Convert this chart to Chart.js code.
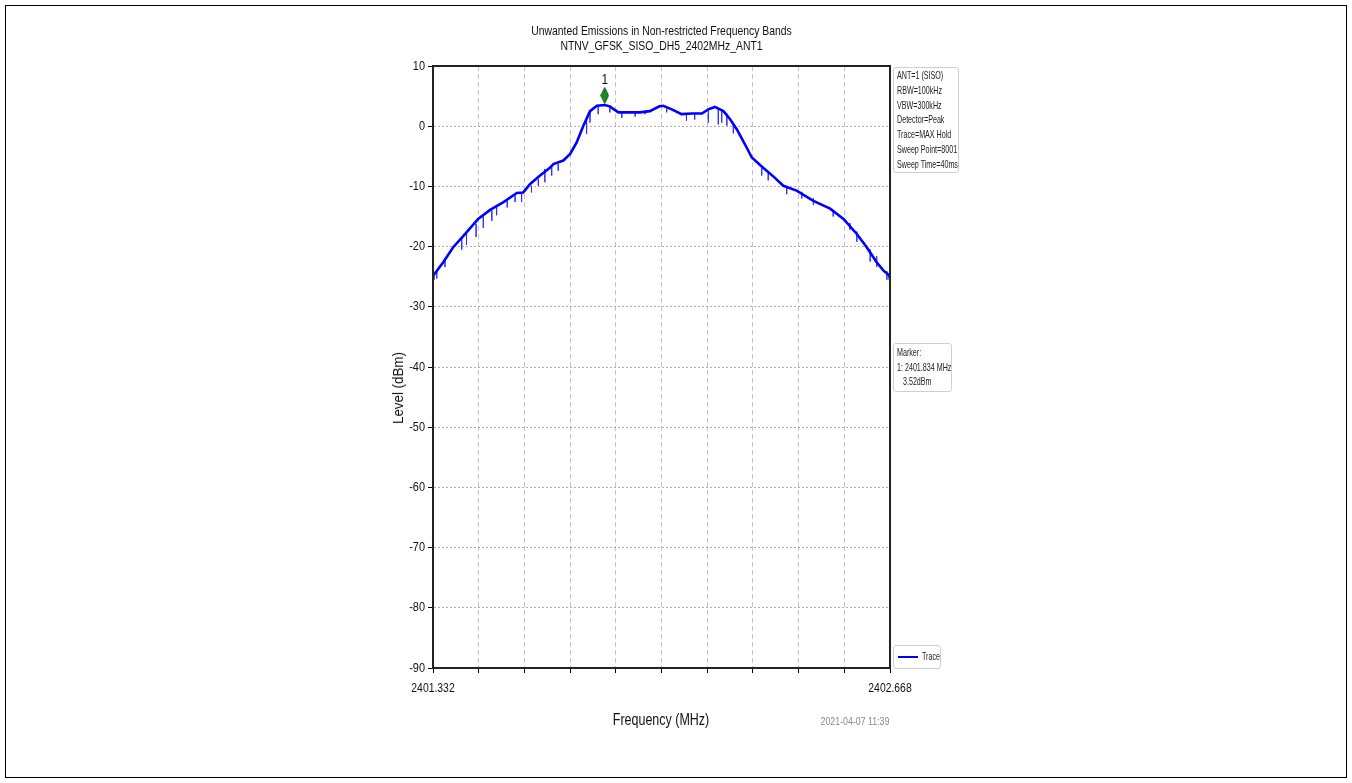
<!DOCTYPE html>
<html>
<head>
<meta charset="utf-8">
<script src="https://cdn.jsdelivr.net/npm/chart.js@4/dist/chart.umd.min.js"></script>
<style>
  html,body{margin:0;padding:0;background:#fff;}
  body{width:1352px;height:783px;position:relative;overflow:hidden;font-family:"Liberation Sans",Arial,sans-serif;}
  #frame{position:absolute;left:5px;top:5px;width:1340px;height:771px;border:1px solid #000;}
  canvas{position:absolute;left:0;top:0;}
  .t{position:absolute;white-space:nowrap;color:#111;}
  .box{position:absolute;border:1px solid #cfcfcf;border-radius:3px;background:#fff;color:#222;}
  .box .in{position:absolute;left:3px;top:0;width:120px;white-space:nowrap;font-size:10.5px;line-height:14.8px;transform:scaleX(0.68);transform-origin:0 0;}
</style>
</head>
<body>
<div id="frame"></div>
<canvas id="c" width="1352" height="783"></canvas>
<div class="t" id="title" style="left:0;width:1323px;top:23px;text-align:center;font-size:13.5px;line-height:15px;transform:scaleX(0.77);transform-origin:661.5px 0;">Unwanted Emissions in Non-restricted Frequency Bands<br>NTNV_GFSK_SISO_DH5_2402MHz_ANT1</div>
<div class="t" id="ylab" style="left:398px;top:388px;font-size:15.5px;transform:translate(-50%,-50%) rotate(-90deg) scaleX(0.86);">Level (dBm)</div>
<div class="t" id="xlab" style="left:661px;top:720px;transform:translate(-50%,-50%) scaleX(0.78);font-size:16px;">Frequency (MHz)</div>
<div class="t" id="date" style="left:855px;top:721px;transform:translate(-50%,-50%) scaleX(0.8);font-size:11px;color:#8a8a8a;">2021-04-07 11:39</div>
<div class="box" style="left:893px;top:67px;width:64px;height:104px;"><div class="in" style="top:0px;">ANT=1 (SISO)<br>RBW=100kHz<br>VBW=300kHz<br>Detector=Peak<br>Trace=MAX Hold<br>Sweep Point=8001<br>Sweep Time=40ms</div></div>
<div class="box" style="left:893px;top:343px;width:57px;height:47px;"><div class="in" style="top:1px;line-height:14.5px;">Marker:<br>1: 2401.834 MHz<br>&nbsp;&nbsp;&nbsp;3.52dBm</div></div>
<div class="box" style="left:893px;top:645px;width:46px;height:22px;"><span style="position:absolute;left:4px;top:10px;width:20px;border-top:2px solid #0000ff;"></span><div class="in" style="left:28px;top:3px;">Trace</div></div>
<script>
// ---- data ----
const traceFreq = [2401.332,2401.333,2401.362,2401.391,2401.421,2401.464,2401.499,2401.538,2401.577,2401.596,2401.616,2401.645,2401.672,2401.684,2401.713,2401.733,2401.752,2401.771,2401.791,2401.811,2401.834,2401.849,2401.874,2401.898,2401.937,2401.966,2401.994,2402.005,2402.030,2402.059,2402.088,2402.118,2402.137,2402.156,2402.181,2402.200,2402.220,2402.244,2402.264,2402.293,2402.330,2402.356,2402.395,2402.444,2402.493,2402.532,2402.571,2402.600,2402.629,2402.649,2402.666,2402.668];
const traceLevel = [-25.3,-24.8,-22.6,-20.1,-18.2,-15.4,-13.9,-12.6,-11.1,-11.0,-9.6,-8.2,-7.0,-6.3,-5.7,-4.6,-2.7,0.0,2.5,3.4,3.52,3.3,2.3,2.3,2.3,2.5,3.3,3.4,2.8,2.0,2.1,2.1,2.8,3.2,2.5,1.2,-0.5,-3.0,-5.2,-6.7,-8.5,-9.9,-10.7,-12.4,-13.7,-15.4,-17.9,-20.1,-22.6,-24.0,-24.8,-25.5];
const dipFreq = [2401.343,2401.367,2401.416,2401.430,2401.458,2401.479,2401.504,2401.518,2401.549,2401.572,2401.591,2401.620,2401.640,2401.659,2401.679,2401.698,2401.781,2401.791,2401.815,2401.849,2401.884,2401.923,2401.952,2402.015,2402.073,2402.097,2402.137,2402.166,2402.176,2402.191,2402.210,2402.293,2402.312,2402.366,2402.410,2402.444,2402.502,2402.551,2402.571,2402.610,2402.629,2402.659];
const dipHigh = [-23.9,-22.0,-18.4,-17.5,-16.2,-15.0,-14.0,-13.5,-12.4,-11.5,-11.2,-9.9,-8.8,-7.1,-6.5,-6.3,1.2,2.3,3.3,3.3,2.3,2.4,2.6,3.3,1.9,2.0,2.5,3.0,2.5,2.1,0.5,-6.9,-7.6,-9.9,-10.9,-12.0,-13.9,-16.1,-17.5,-20.5,-21.6,-24.1];
const dipLow = [-25.3,-23.4,-20.5,-19.7,-18.4,-16.9,-15.7,-14.8,-13.5,-12.6,-12.6,-11.0,-9.9,-9.3,-8.2,-7.4,-1.3,0.6,2.0,2.3,1.4,1.6,2.0,2.3,0.9,1.1,0.6,0.3,0.6,0.1,-1.2,-8.2,-9.0,-11.3,-12.0,-13.1,-15.0,-17.2,-19.2,-22.5,-23.4,-25.5];
const xTickValues = [2401.332,2401.4656,2401.5992,2401.7328,2401.8664,2402.0,2402.1336,2402.2672,2402.4008,2402.5344,2402.668];
const xTickLabels = ['2401.332','','','','','','','','','','2402.668'];
const yTickValues = [10,0,-10,-20,-30,-40,-50,-60,-70,-80,-90];
const yTickLabels = ['10','0','-10','-20','-30','-40','-50','-60','-70','-80','-90'];
const markerFreq = 2401.834;
const markerLevel = 3.52;
const markerDrawLevel = 5.1; // where the diamond sits above the trace
const markerLabel = '1';

const traceData = traceFreq.map((f,i)=>({x:f,y:traceLevel[i]}));
const dipData = [];
dipFreq.forEach((f,i)=>{dipData.push({x:f,y:dipHigh[i]});dipData.push({x:f,y:dipLow[i]});dipData.push({x:f,y:null});});

// diamond marker image
const dia = document.createElement('canvas');
dia.width = 9; dia.height = 17;
{const g = dia.getContext('2d');
 g.beginPath(); g.moveTo(4.5,0.5); g.lineTo(8.3,8.5); g.lineTo(4.5,16.5); g.lineTo(0.7,8.5); g.closePath();
 g.fillStyle='#1f8a1f'; g.fill(); g.strokeStyle='#0d5c0d'; g.lineWidth=1; g.stroke();}

const FONT = '"Liberation Sans",Arial,sans-serif';
function squeezedText(ctx, txt, x, y, align, sx){
  ctx.save(); ctx.translate(x,y); ctx.scale(sx,1); ctx.textAlign=align; ctx.fillText(txt,0,0); ctx.restore();
}

const framePlugin = {
  id:'framePlugin',
  afterDraw(chart){
    const {ctx, chartArea:a, scales} = chart;
    ctx.save();
    ctx.strokeStyle='#222'; ctx.lineWidth=2;
    ctx.strokeRect(a.left, a.top, a.right-a.left, a.bottom-a.top);
    ctx.fillStyle='#111'; ctx.font='13px '+FONT; ctx.textBaseline='middle';
    yTickValues.forEach((v,i)=>squeezedText(ctx, yTickLabels[i], a.left-8, scales.y.getPixelForValue(v), 'right', 0.84));
    xTickValues.forEach((v,i)=>{ if(xTickLabels[i]) squeezedText(ctx, xTickLabels[i], scales.x.getPixelForValue(v), a.bottom+20, 'center', 0.8); });
    // marker label
    const px = scales.x.getPixelForValue(markerFreq);
    const py = scales.y.getPixelForValue(markerDrawLevel);
    ctx.font='14px '+FONT; ctx.textBaseline='bottom';
    squeezedText(ctx, markerLabel, px, py-8, 'center', 0.85);
    ctx.restore();
  }
};

new Chart(document.getElementById('c'), {
  type:'line',
  data:{datasets:[
    {label:'Marker', data:[{x:markerFreq,y:markerDrawLevel}], showLine:false, pointStyle:dia, pointRadius:8, pointHoverRadius:8, order:0},
    {label:'Trace', data:traceData, borderColor:'#0000ff', borderWidth:2.6, pointRadius:0, tension:0, fill:false, order:1},
    {label:'dips', data:dipData, borderColor:'rgba(40,40,255,0.75)', borderWidth:1, pointRadius:0, tension:0, spanGaps:false, fill:false, order:2}
  ]},
  options:{
    responsive:false, animation:false, events:[],
    layout:{padding:{left:385, right:462, top:66, bottom:75}},
    plugins:{legend:{display:false}, title:{display:false}, tooltip:{enabled:false}},
    scales:{
      x:{type:'linear', min:2401.332, max:2402.668,
        afterFit(s){s.height=40;},
        afterBuildTicks(s){s.ticks = xTickValues.map(v=>({value:v}));},
        ticks:{display:false},
        grid:{color:'#c4c4c4', lineWidth:1, tickLength:5, tickColor:'#000', tickWidth:1},
        border:{display:true, color:'#000', width:2, dash:[5,3]}
      },
      y:{type:'linear', min:-90, max:10,
        afterFit(s){s.width=48;},
        afterBuildTicks(s){s.ticks = yTickValues.map(v=>({value:v}));},
        ticks:{display:false},
        grid:{color:'#9a9a9a', lineWidth:0.8, tickLength:5, tickColor:'#000', tickWidth:1},
        border:{display:true, color:'#000', width:2, dash:[2,2]}
      }
    }
  },
  plugins:[framePlugin]
});
</script>
</body>
</html>
